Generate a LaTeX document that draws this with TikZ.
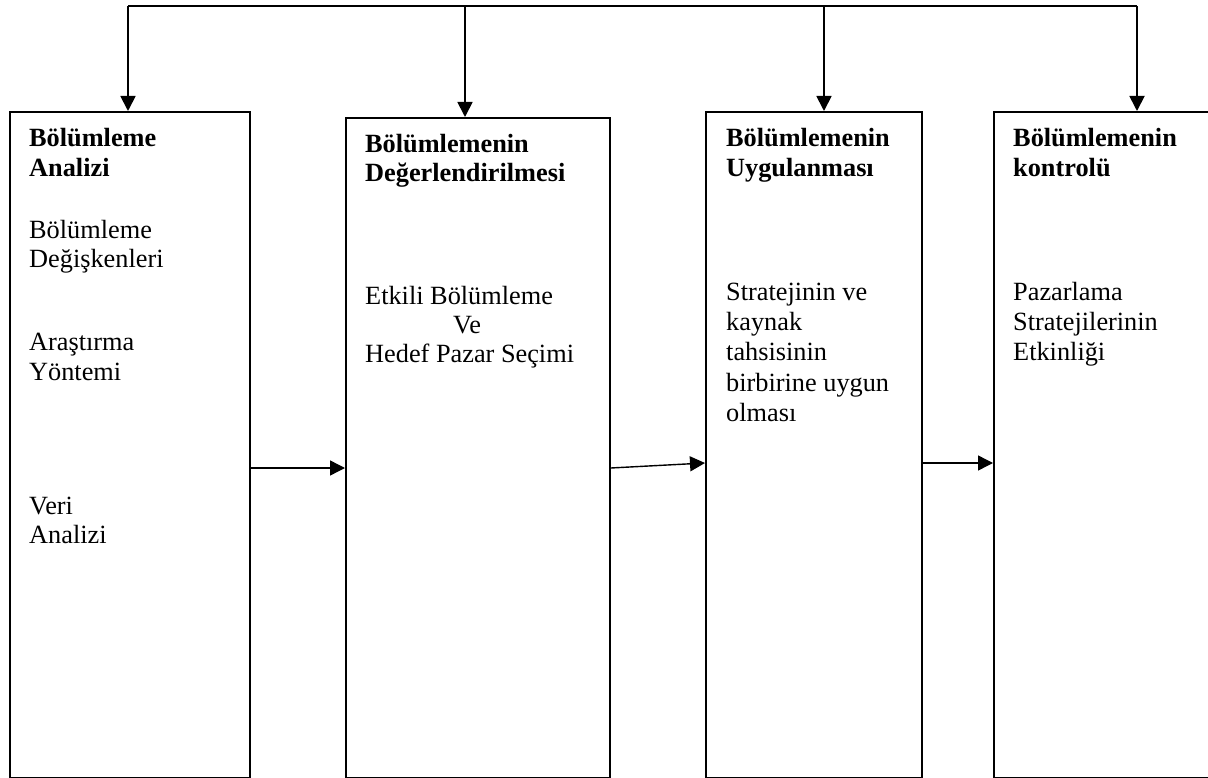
\documentclass[tikz,border=0pt]{standalone}
\usepackage{fontspec}
\setmainfont{Liberation Serif}
\usetikzlibrary{arrows.meta}

\begin{document}
\begin{tikzpicture}[x=1pt,y=-1pt,
  box/.style={draw, line width=1.8pt, inner sep=0pt, anchor=north west},
  bus/.style={line width=1.8pt},
  conn/.style={line width=1.8pt, -{Triangle[length=15pt,width=15pt]}},
  side/.style={line width=1.4pt, -{Triangle[length=15pt,width=15pt]}},
  lbl/.style={anchor=base west, inner sep=0pt, font=\fontsize{26.3}{30}\selectfont},
  ttl/.style={anchor=base west, inner sep=0pt, font=\fontsize{26.3}{30}\selectfont\bfseries}]
\useasboundingbox (0,0) rectangle (1208,778);
\clip (0,0) rectangle (1208,778);

% the four stage boxes
\node[box, minimum width=240pt, minimum height=666pt] (b1) at (9,111) {};
\node[box, minimum width=264pt, minimum height=660pt] (b2) at (345,117) {};
\node[box, minimum width=216pt, minimum height=666pt] (b3) at (705,111) {};
\node[box, minimum width=240pt, minimum height=666pt] (b4) at (993,111) {};

% feedback bus along the top
\coordinate (t1) at (128,6);
\coordinate (t2) at (465,6);
\coordinate (t3) at (824,6);
\coordinate (t4) at (1137,6);
\draw[bus] (t1) -- (t4);
\draw[conn] (t1) -- (t1 |- b1.north);
\draw[conn] (t2) -- (t2 |- b2.north);
\draw[conn] (t3) -- (t3 |- b3.north);
\draw[conn] (t4) -- (t4 |- b4.north);

% flow between the stages
\draw[side] (b1.east |- 0,468) -- (b2.west |- 0,468);
\draw[side] (b2.east |- 0,468) -- (b3.west |- 0,463);
\draw[side] (b3.east |- 0,463) -- (b4.west |- 0,463);

% box 1
\node[ttl] (a1) at (29,147) {Bölümleme};
\node[ttl] (a2) at (29,177) {Analizi};
\node[lbl] (a3) at (29,239) {Bölümleme};
\node[lbl] (a4) at (29,268) {Değişkenleri};
\node[lbl] (a5) at (29,350) {Araştırma};
\node[lbl] (a6) at (29,380) {Yöntemi};
\node[lbl] (a7) at (29,514) {Veri};
\node[lbl] (a8) at (29,543) {Analizi};

% box 2
\node[ttl] (c1) at (365,153) {Bölümlemenin};
\node[ttl] (c2) at (365,182) {Değerlendirilmesi};
\node[lbl] (c3) at (365,305) {Etkili Bölümleme};
\node[lbl] (c4) at (453,334) {Ve};
\node[lbl] (c5) at (365,362) {Hedef Pazar Seçimi};

% box 3
\node[ttl] (d1) at (726,147) {Bölümlemenin};
\node[ttl] (d2) at (726,177) {Uygulanması};
\node[lbl] (d3) at (726,300) {Stratejinin ve};
\node[lbl] (d4) at (726,330) {kaynak};
\node[lbl] (d5) at (726,360) {tahsisinin};
\node[lbl] (d6) at (726,391) {birbirine uygun};
\node[lbl] (d7) at (726,421) {olması};

% box 4
\node[ttl] (e1) at (1013,147) {Bölümlemenin};
\node[ttl] (e2) at (1013,177) {kontrolü};
\node[lbl] (e3) at (1013,300) {Pazarlama};
\node[lbl] (e4) at (1013,330) {Stratejilerinin};
\node[lbl] (e5) at (1013,360) {Etkinliği};
\end{tikzpicture}
\end{document}
